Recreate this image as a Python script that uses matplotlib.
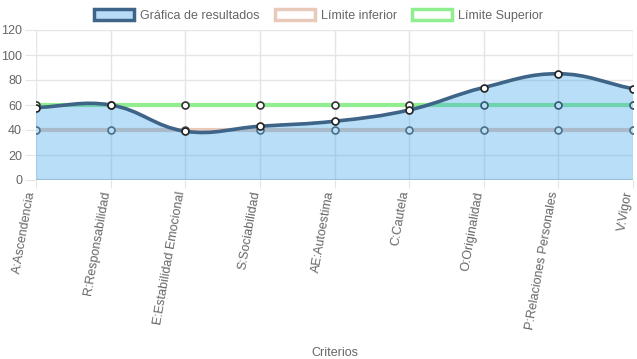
import matplotlib
matplotlib.use('Agg')

import matplotlib.pyplot as plt
import matplotlib.transforms as mtransforms
import numpy as np
from matplotlib.path import Path
from matplotlib.patches import PathPatch, Patch

plt.rcParams['font.family'] = ['Liberation Sans', 'DejaVu Sans']

criterios = ['A:Ascendencia', 'R:Responsabilidad', 'E:Estabilidad Emocional',
             'S:Sociabilidad', 'AE:Autoestima', 'C:Cautela', 'O:Originalidad',
             'P:Relaciones Personales', 'V:Vigor']
resultados = [58, 60, 39, 43, 47, 56, 74, 85, 73]
limite_inferior = [40, 40, 40, 40, 40, 40, 40, 40, 40]
limite_superior = [60, 60, 60, 60, 60, 60, 60, 60, 60]

c_res = '#3e6487'
c_fill = (54/255, 162/255, 235/255, 0.35)
c_inf = '#e8c9ba'
c_sup = '#90ee90'
c_txt = '#666666'


def spline_path(xs, ys, sx, sy, t=0.4):
    # chart.js style bezier control points (distances in pixel space)
    n = len(xs)
    pts = np.column_stack([xs, ys]).astype(float)
    ctrl = []
    for i in range(n):
        p0 = pts[max(i - 1, 0)]
        p1 = pts[i]
        p2 = pts[min(i + 1, n - 1)]
        d01 = np.hypot((p1[0] - p0[0]) * sx, (p1[1] - p0[1]) * sy)
        d12 = np.hypot((p2[0] - p1[0]) * sx, (p2[1] - p1[1]) * sy)
        tot = d01 + d12
        s01 = d01 / tot if tot else 0
        s12 = d12 / tot if tot else 0
        fa, fb = t * s01, t * s12
        ctrl.append((p1 - fa * (p2 - p0), p1 + fb * (p2 - p0)))
    verts = [pts[0]]
    codes = [Path.MOVETO]
    for i in range(n - 1):
        verts += [ctrl[i][1], ctrl[i + 1][0], pts[i + 1]]
        codes += [Path.CURVE4] * 3
    return verts, codes


fig = plt.figure(figsize=(6.37, 3.59), dpi=100)
ax = fig.add_axes([36 / 637, 1 - 180 / 359, (633 - 36) / 637, 150 / 359])

x = np.arange(len(criterios))
ax.set_xlim(0, len(criterios) - 1)
ax.set_ylim(0, 120)

# limit lines (below the fill)
ax.plot(x, limite_inferior, color=c_inf, lw=3, zorder=2, solid_capstyle='butt')
ax.plot(x, limite_inferior, 'o', ms=5, mfc='white', mec='#555555', mew=1.2, zorder=2.1)
ax.plot(x, limite_superior, color=c_sup, lw=3, zorder=2, solid_capstyle='butt')
ax.plot(x, limite_superior, 'o', ms=5, mfc='white', mec='#333333', mew=1.2, zorder=2.1)

# results curve + fill to zero
sx = 597 / (len(criterios) - 1)
sy = 150 / 120
verts, codes = spline_path(x, resultados, sx, sy)
fill_verts = verts + [(x[-1], 0), (x[0], 0), verts[0]]
fill_codes = codes + [Path.LINETO, Path.LINETO, Path.CLOSEPOLY]
ax.add_patch(PathPatch(Path(fill_verts, fill_codes), facecolor=c_fill,
                       edgecolor='none', zorder=3))
ax.add_patch(PathPatch(Path(verts, codes), facecolor='none', edgecolor=c_res,
                       lw=2.6, zorder=4))
ax.plot(x, resultados, 'o', ms=5, mfc='white', mec='#222222', mew=1.2, zorder=5)

# grid and axes
ax.set_yticks(range(0, 121, 20))
ax.set_xticks(x)
ax.grid(True, color='#e5e5e5', lw=1, zorder=0)
for s in ax.spines.values():
    s.set_visible(False)
ax.axhline(0, color='#cfcfcf', lw=1.5, zorder=1)
ax.tick_params(axis='both', length=8, color='#e5e5e5', labelcolor=c_txt,
               labelsize=9, pad=2)
ax.tick_params(axis='x', length=6)
ax.set_xticklabels(criterios, rotation=80, ha='right', va='center',
                   rotation_mode='anchor')
shift = mtransforms.ScaledTranslation(-4 / 100, 0, fig.dpi_scale_trans)
for lbl in ax.get_xticklabels():
    lbl.set_transform(lbl.get_transform() + shift)
ax.set_xlabel('Criterios', color=c_txt, fontsize=9)
ax.xaxis.set_label_coords(0.5, -1.11)
ax.set_axisbelow(True)

handles = [
    Patch(facecolor='#b8dbf7', edgecolor=c_res, lw=2.5),
    Patch(facecolor='white', edgecolor=c_inf, lw=2.5),
    Patch(facecolor='white', edgecolor=c_sup, lw=2.5),
]
fig.legend(handles, ['Gráfica de resultados', 'Límite inferior', 'Límite Superior'],
           loc='upper center', bbox_to_anchor=(0.5, 1.005), ncol=3, frameon=False,
           fontsize=9, handlelength=3.2, handleheight=0.9, handletextpad=0.5,
           columnspacing=1.2, labelcolor=c_txt)

fig.savefig('out.png', dpi=100)
